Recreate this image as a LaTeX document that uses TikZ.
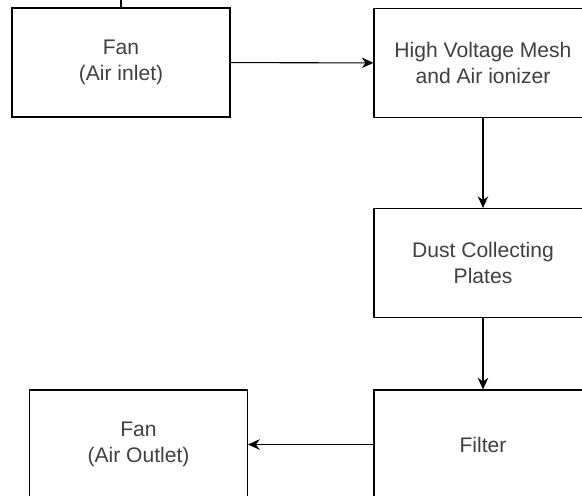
\documentclass[tikz,border=0pt]{standalone}
\usepackage{fontspec}
\setmainfont{Liberation Sans}
\usetikzlibrary{arrows.meta, positioning}

\begin{document}
\begin{tikzpicture}[x=0.03cm, y=-0.03cm,
            every node/.style={rectangle, draw, line width=0.9pt, minimum width=6.54cm, minimum height=3.27cm, align=center, font=\fontsize{18}{21.5}\selectfont, text=black!75},
            edge/.style={-{Stealth[length=10pt, width=9pt]}, line width=0.9pt},
            stub/.style={-, line width=0.9pt}
        ]
        \useasboundingbox (0,0) rectangle (582,495);
        \clip (0,0) rectangle (582,495);

        \node (Inlet) at (121, 62.5) {Fan\\(Air inlet)};
        \node (Mesh) at (483, 63) {High Voltage Mesh\\and Air ionizer};
        \node (Plates) at (483, 263) {Dust Collecting\\Plates};
        \node (Filter) at (483, 444.5) {Filter};
        \node (Outlet) at (138.5, 444.5) {Fan\\(Air Outlet)};

        \coordinate (Top) at (121, -5);

        \draw[stub] (Top) -- (Inlet);
        \draw[edge] (Inlet) -- (Mesh);
        \draw[edge] (Mesh) -- (Plates);
        \draw[edge] (Plates) -- (Filter);
        \draw[edge] (Filter) -- (Outlet);

        \end{tikzpicture}
\end{document}
